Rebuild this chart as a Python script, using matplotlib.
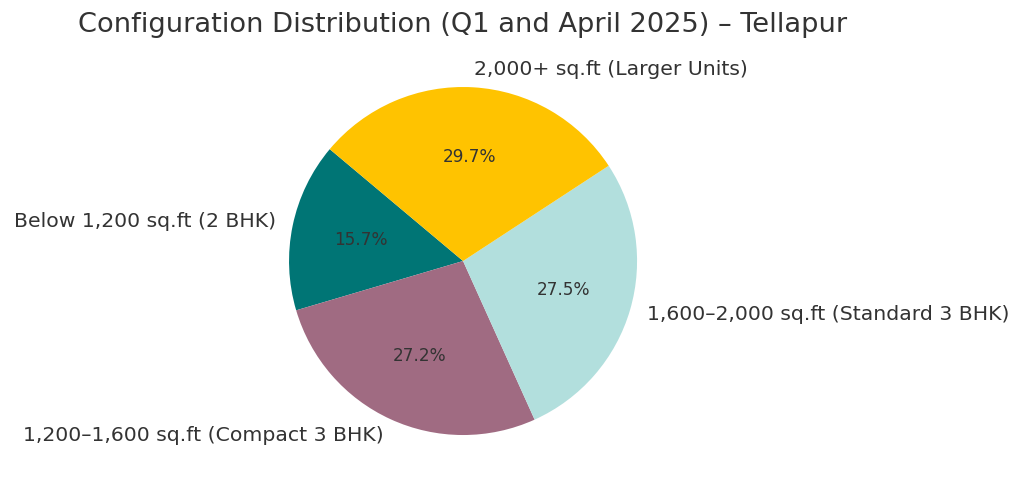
import matplotlib
matplotlib.use("Agg")
import matplotlib.pyplot as plt

labels = ["Below 1,200 sq.ft (2 BHK)", "1,200–1,600 sq.ft (Compact 3 BHK)",
          "1,600–2,000 sq.ft (Standard 3 BHK)", "2,000+ sq.ft (Larger Units)"]
values = [15.7, 27.2, 27.5, 29.7]
colors = ["#007575", "#a06b82", "#b2dfdd", "#ffc300"]

fig = plt.figure(figsize=(10.24, 4.91), dpi=100)
ax = fig.add_axes([0.2822, 0.114, 0.34, 0.7088])
ax.pie(values, labels=labels, colors=colors, startangle=140, autopct="%1.1f%%",
       textprops={"fontsize": 14.7, "color": "#333333"})
for t in ax.texts:
    if t.get_text().endswith("%"):
        t.set_fontsize(12.2)
ax.set_xlim(-1, 1); ax.set_ylim(-1, 1)
ax.set_aspect("equal")
fig.text(0.452, 0.95, "Configuration Distribution (Q1 and April 2025) – Tellapur",
         ha="center", va="center", fontsize=19.6, color="#333333")
fig.savefig("out.png", dpi=100)
